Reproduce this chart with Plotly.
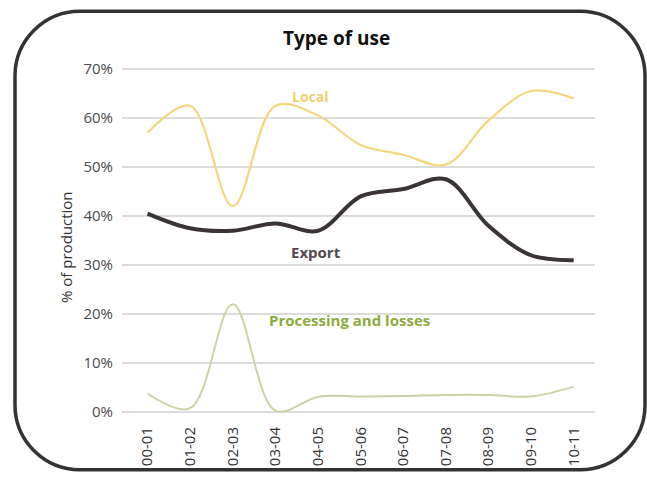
import plotly.graph_objects as go

# ---- data ----
seasons = ["00-01", "01-02", "02-03", "03-04", "04-05", "05-06",
           "06-07", "07-08", "08-09", "09-10", "10-11"]
local = [57, 62.5, 42, 62.5, 60.5, 54.5, 52.5, 50.5, 59.5, 65.5, 64]
export = [40.5, 37.5, 37, 38.5, 37, 44, 45.5, 47.5, 38, 32, 31]
processing = [3.8, 0.8, 22, 0.3, 3.1, 3.2, 3.3, 3.5, 3.5, 3.2, 5.2]
y_ticks = [0, 10, 20, 30, 40, 50, 60, 70]
y_tick_text = ["0%", "10%", "20%", "30%", "40%", "50%", "60%", "70%"]

W, H = 647, 478
L, R, T, B = 122, 52, 60, 59
PW, PH = W - L - R, H - T - B


def px(x):
    return (x - L) / PW


def py(y):
    return (H - B - y) / PH


fig = go.Figure()
fig.add_trace(go.Scatter(x=seasons, y=local, mode="lines",
                         line=dict(color="#f4d67c", width=2.2, shape="spline", smoothing=1.0),
                         hoverinfo="skip"))
fig.add_trace(go.Scatter(x=seasons, y=export, mode="lines",
                         line=dict(color="#3a3337", width=4, shape="spline", smoothing=1.0),
                         hoverinfo="skip"))
fig.add_trace(go.Scatter(x=seasons, y=processing, mode="lines",
                         line=dict(color="#cdd2a4", width=2, shape="spline", smoothing=1.0),
                         hoverinfo="skip"))

# rounded border
x0, y0, x1, y1, r = 15, 11, 645, 472, 65
k = 0.552 * r
def P(x, y):
    return f"{px(x):.5f},{py(y):.5f}"
path = (f"M {P(x0 + r, y0)} L {P(x1 - r, y0)} "
        f"C {P(x1 - r + k, y0)} {P(x1, y0 + r - k)} {P(x1, y0 + r)} "
        f"L {P(x1, y1 - r)} "
        f"C {P(x1, y1 - r + k)} {P(x1 - r + k, y1)} {P(x1 - r, y1)} "
        f"L {P(x0 + r, y1)} "
        f"C {P(x0 + r - k, y1)} {P(x0, y1 - r + k)} {P(x0, y1 - r)} "
        f"L {P(x0, y0 + r)} "
        f"C {P(x0, y0 + r - k)} {P(x0 + r - k, y0)} {P(x0 + r, y0)} Z")
fig.add_shape(type="path", path=path, xref="paper", yref="paper",
              line=dict(color="#333333", width=3.5), layer="above")

FONT = "Open Sans"
fig.add_annotation(x=px(336), y=py(38), xref="paper", yref="paper",
                   text="<b>Type of use</b>", showarrow=False,
                   font=dict(family=FONT, size=19, color="#111111"),
                   xanchor="center", yanchor="middle")
fig.add_annotation(x=px(310), y=py(85), xref="paper", yref="paper",
                   text="<b>Local</b>", showarrow=False,
                   font=dict(family=FONT, size=14, color="#f0cf72"))
fig.add_annotation(x=px(316), y=py(253), xref="paper", yref="paper",
                   text="<b>Export</b>", showarrow=False,
                   font=dict(family=FONT, size=15, color="#55494f"))
fig.add_annotation(x=px(349), y=py(334), xref="paper", yref="paper",
                   text="<b>Processing and losses</b>", showarrow=False,
                   font=dict(family=FONT, size=15, color="#8cab3e"))
fig.add_annotation(x=px(54), y=py(248), xref="paper", yref="paper",
                   text="% of production", showarrow=False, textangle=-90,
                   font=dict(family=FONT, size=15, color="#333333"))

fig.update_layout(
    width=W, height=H,
    margin=dict(l=L, r=R, t=T, b=B),
    paper_bgcolor="white", plot_bgcolor="white",
    showlegend=False,
    font=dict(family=FONT),
    xaxis=dict(type="category", range=[-0.6, 10.5], tickangle=-90,
               showgrid=False, zeroline=False, showline=False, ticks="",
               tickfont=dict(family=FONT, size=15, color="#333333"),
               ticklabelstandoff=6),
    yaxis=dict(range=[-1, -1 + PH / 4.929], tickvals=y_ticks, ticktext=y_tick_text,
               showgrid=True, gridcolor="#dcdcdc", gridwidth=1.5,
               zeroline=False, showline=False, ticks="",
               tickfont=dict(family=FONT, size=15, color="#4a4a4a"),
               ticklabelstandoff=8),
)

fig.write_html("out.html")
